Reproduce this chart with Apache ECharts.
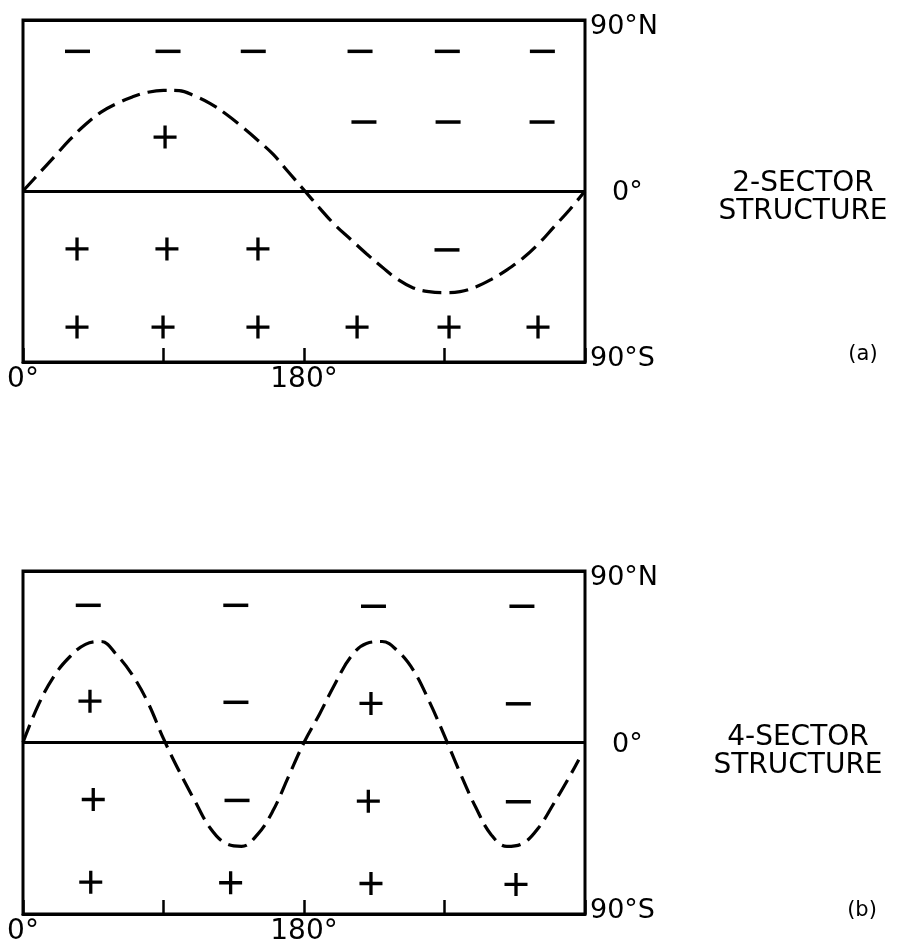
<!DOCTYPE html>
<html>
<head>
<meta charset="utf-8">
<script src="https://cdn.jsdelivr.net/npm/echarts@6/dist/echarts.min.js"></script>
<style>
html,body{margin:0;padding:0;background:#fff;}
#c{width:898px;height:947px;}
</style>
</head>
<body>
<div id="c"></div>
<script>
// ---------- Panel (a): 2-sector structure ----------
const curveA_lon = [0, 10, 20, 30, 40, 50, 60, 70, 80, 90, 100, 110, 120, 130, 140, 150, 160, 170, 180, 190, 200, 210, 220, 230, 240, 250, 260, 270, 280, 290, 300, 310, 320, 330, 340, 350, 360];
const curveA_lat = [0, 9, 18, 27, 35, 41.5, 46, 49.5, 52, 53, 52.8, 50, 46, 40.5, 34, 27, 19.5, 10, 0.5, -9, -18, -25.5, -33, -40, -46.5, -51, -53, -53.5, -53, -50.5, -46.5, -41.5, -35.5, -28, -19, -10, 0];
const plusA_lon  = [91, 34.6, 92.2, 150.5, 34.6, 89.7, 150.5, 214, 272.9, 329.9];
const plusA_lat  = [28.4, -30.5, -30.5, -30.5, -71.6, -71.6, -71.6, -71.6, -71.6, -71.6];
const minusA_lon = [34.9, 92.9, 147.5, 215.9, 271.8, 332.7, 218.4, 272.3, 332.5, 271.6];
const minusA_lat = [73.5, 73.5, 73.5, 73.5, 73.5, 73.5, 36.3, 36.3, 36.3, -31];

// ---------- Panel (b): 4-sector structure ----------
const curveB_lon = [0, 10, 20, 30, 40, 50, 60, 70, 80, 90, 100, 110, 120, 130, 140, 150, 160, 170, 180, 190, 200, 210, 220, 230, 240, 250, 260, 270, 280, 290, 300, 310, 320, 330, 340, 350, 356];
const curveB_lat = [0, 20, 35, 45, 51.5, 53, 46, 35.5, 21, 2, -15, -30.5, -45, -53, -54.5, -48.5, -36, -18, 0, 15, 31, 45, 52, 53, 48, 38, 22, 3.5, -16, -34, -48.5, -54.5, -53, -45, -32, -18, -9];
const plusB_lon  = [42.9, 222.9, 45, 221.2, 43.4, 133, 222.9, 315.8];
const plusB_lat  = [21.7, 20.5, -29.9, -30.8, -73.3, -73.6, -74, -74.5];
const minusB_lon = [41.8, 136.3, 224.5, 319.6, 136.4, 317.3, 137.1, 317.3];
const minusB_lat = [72, 72, 71.5, 71.5, 21.1, 20.3, -30.4, -31.1];

// ---------- Tick labels / texts ----------
const xTickLabels = {0: '0°', 180: '180°'};
const yTickLabels = {90: '90°N', 0: '0°', '-90': '90°S'};
const panelTitles = [['2-SECTOR', 'STRUCTURE'], ['4-SECTOR', 'STRUCTURE']];
const panelTags = ['(a)', '(b)'];

const FONT = '"DejaVu Sans", "Liberation Sans", sans-serif';
const zip = (a, b) => a.map((v, i) => [v, b[i]]);
const PLUS = 'path://M0,9.85 H23 V13.15 H0 Z M9.85,0 H13.15 V23 H9.85 Z';

const grids = [
  {left: 23, top: 20, width: 562, height: 342},
  {left: 23, top: 571, width: 562, height: 343}
];

function xAxisFor(i) {
  return {
    gridIndex: i, type: 'value', min: 0, max: 360, interval: 90,
    axisLine: {show: true, onZero: false, lineStyle: {color: '#000', width: 3}},
    axisTick: {show: true, inside: true, length: 14, lineStyle: {color: '#000', width: 2.5}},
    axisLabel: {
      margin: 4, color: '#000', fontFamily: FONT, fontSize: 28,
      formatter: v => xTickLabels[v] || ''
    },
    splitLine: {show: false}
  };
}
function yAxisFor(i) {
  return {
    gridIndex: i, type: 'value', min: -90, max: 90, interval: 90, position: 'right',
    axisLine: {show: false},
    axisTick: {show: false},
    splitLine: {show: true, lineStyle: {color: '#000', width: 3}},
    axisLabel: {
      margin: 5, color: '#000', fontFamily: FONT, fontSize: 27, align: 'left',
      formatter: v => {
        const t = yTickLabels[String(v)] || '';
        if (v === 90) return '{n|' + t + '}';
        if (v === 0) return '{z|' + t + '}';
        return '{s|' + t + '}';
      },
      rich: {
        n: {fontFamily: FONT, fontSize: 27, color: '#000', padding: [14, 0, 0, 0]},
        z: {fontFamily: FONT, fontSize: 27, color: '#000', padding: [4, 0, 0, 22]},
        s: {fontFamily: FONT, fontSize: 27, color: '#000', padding: [0, 0, 6, 0]}
      }
    }
  };
}

function seriesFor(i, cLon, cLat, pLon, pLat, mLon, mLat) {
  return [
    {
      type: 'line', xAxisIndex: i, yAxisIndex: i, data: zip(cLon, cLat),
      smooth: 0.4, showSymbol: false, symbol: 'none', silent: true,
      lineStyle: {color: '#000', width: 3.2, type: [19, 8], cap: 'butt'}
    },
    {
      type: 'scatter', xAxisIndex: i, yAxisIndex: i, data: zip(pLon, pLat),
      symbol: PLUS, symbolSize: 23, silent: true,
      itemStyle: {color: '#000', opacity: 1}
    },
    {
      type: 'scatter', xAxisIndex: i, yAxisIndex: i, data: zip(mLon, mLat),
      symbol: 'rect', symbolSize: [25, 3.5], silent: true,
      itemStyle: {color: '#000', opacity: 1}
    }
  ];
}

const textStyle = (size) => ({fill: '#000', fontFamily: FONT, fontSize: size});

const option = {
  backgroundColor: '#fff',
  animation: false,
  grid: grids.map(g => Object.assign({show: true, borderColor: '#000', borderWidth: 3, backgroundColor: 'transparent'}, g)),
  xAxis: [xAxisFor(0), xAxisFor(1)],
  yAxis: [yAxisFor(0), yAxisFor(1)],
  series: [
    ...seriesFor(0, curveA_lon, curveA_lat, plusA_lon, plusA_lat, minusA_lon, minusA_lat),
    ...seriesFor(1, curveB_lon, curveB_lat, plusB_lon, plusB_lat, minusB_lon, minusB_lat)
  ],
  graphic: [
    {type: 'text', x: 803, y: 170, style: Object.assign({text: panelTitles[0][0] + '\n' + panelTitles[0][1], align: 'center', lineHeight: 28}, textStyle(28))},
    {type: 'text', x: 863, y: 355, style: Object.assign({text: panelTags[0], align: 'center', verticalAlign: 'middle'}, textStyle(21))},
    {type: 'text', x: 798, y: 724, style: Object.assign({text: panelTitles[1][0] + '\n' + panelTitles[1][1], align: 'center', lineHeight: 28}, textStyle(28))},
    {type: 'text', x: 862, y: 911, style: Object.assign({text: panelTags[1], align: 'center', verticalAlign: 'middle'}, textStyle(21))}
  ]
};

const chart = echarts.init(document.getElementById('c'), null, {renderer: 'canvas'});
chart.setOption(option);
</script>
</body>
</html>
